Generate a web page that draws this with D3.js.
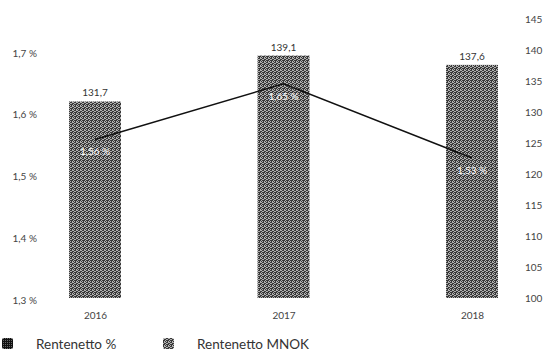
<!DOCTYPE html>
<html><head><meta charset="utf-8">
<script src="https://cdn.jsdelivr.net/npm/d3@7"></script>
<style>body{margin:0;background:#fff}text{font-family:Lato,"DejaVu Sans",sans-serif}</style>
</head><body>
<svg id="c" width="544" height="353"></svg>
<script>
const years = ["2016", "2017", "2018"];
const mnok = [131.7, 139.1, 137.6];
const pct = [1.56, 1.65, 1.53];
const leftTicks = [1.3, 1.4, 1.5, 1.6, 1.7];
const rightTicks = [100, 105, 110, 115, 120, 125, 130, 135, 140, 145];
const legendLabels = ["Rentenetto %", "Rentenetto MNOK"];

const svg = d3.select("#c");
const defs = svg.append("defs");
const pat = defs.append("pattern").attr("id","dither").attr("width",4).attr("height",4).attr("patternUnits","userSpaceOnUse");
pat.append("rect").attr("width",4).attr("height",4).attr("fill","#b0b0b0");
[[0,0],[2,0],[1,1],[3,2],[0,3],[2,2],[1,3],[3,1],[3,0]].forEach(([a,b])=>pat.append("rect").attr("x",a).attr("y",b).attr("width",1).attr("height",1).attr("fill","#383838"));
const pat2 = defs.append("pattern").attr("id","dither2").attr("width",2).attr("height",2).attr("patternUnits","userSpaceOnUse");
pat2.append("rect").attr("width",2).attr("height",2).attr("fill","#111");
pat2.append("rect").attr("x",1).attr("y",0).attr("width",1).attr("height",1).attr("fill","#666");

const x = d3.scalePoint().domain(years).range([95, 472]);
const yR = d3.scaleLinear().domain([100, 145]).range([298, 19]);
const yL = d3.scaleLinear().domain([1.3, 1.7]).range([300, 53]);
const bw = 52;
const fmt = d3.format(".1f");
const comma = s => s.replace(".", ",");

const gl = svg.append("g").attr("transform","translate(37,0)")
  .call(d3.axisLeft(yL).tickValues(leftTicks).tickSize(0).tickPadding(0).tickFormat(d=>comma(fmt(d))+" %"));
gl.select(".domain").remove();
gl.selectAll("text").attr("font-size",10).attr("fill","#444");

const gr = svg.append("g").attr("transform","translate(525,0)")
  .call(d3.axisRight(yR).tickValues(rightTicks).tickSize(0).tickPadding(0));
gr.select(".domain").remove();
gr.selectAll("text").attr("font-size",10).attr("fill","#444");

const gb = svg.append("g").attr("transform","translate(0,312)")
  .call(d3.axisBottom(x).tickSize(0).tickPadding(0));
gb.select(".domain").remove();
gb.selectAll("text").attr("font-size",10).attr("fill","#444");

svg.selectAll(".bar").data(years).enter().append("rect")
  .attr("x", d=>x(d)-bw/2).attr("width", bw)
  .attr("y", (d,i)=>yR(mnok[i])).attr("height",(d,i)=>yR(100)-yR(mnok[i]))
  .attr("fill","url(#dither)");
svg.selectAll(".bl").data(years).enter().append("text")
  .attr("x", d=>x(d)).attr("y",(d,i)=>yR(mnok[i])-5)
  .attr("text-anchor","middle").attr("font-size",10).attr("fill","#333")
  .text((d,i)=>comma(fmt(mnok[i])));

svg.append("path").datum(pct).attr("d", d3.line().x((d,i)=>x(years[i])).y(d=>yL(d)))
  .attr("fill","none").attr("stroke","#111").attr("stroke-width",1.5);
svg.selectAll(".pl").data(pct).enter().append("text")
  .attr("x",(d,i)=>x(years[i])).attr("y",d=>yL(d)+16)
  .attr("text-anchor","middle").attr("font-size",10).attr("fill","#fff")
  .text(d=>d3.format(".2f")(d).replace(".",",")+" %");

const lg = svg.append("g");
const lx = [2, 163];
legendLabels.forEach((t,i)=>{
  lg.append("rect").attr("x",lx[i]).attr("y",338).attr("width",11).attr("height",11).attr("rx",2)
    .attr("fill", i===0 ? "url(#dither2)" : "url(#dither)");
  lg.append("text").attr("x",lx[i]+34).attr("y",349).attr("font-size",13.5).attr("fill","#333").text(t);
});
</script>
</body></html>
